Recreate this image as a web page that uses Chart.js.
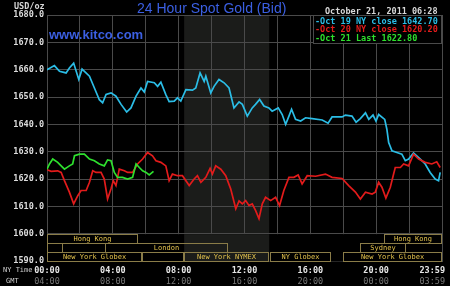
<!DOCTYPE html>
<html><head><meta charset="utf-8">
<script src="https://cdn.jsdelivr.net/npm/chart.js@4"></script>
<style>html,body{margin:0;padding:0;background:#000;overflow:hidden}canvas{display:block}</style>
</head><body>
<canvas id="c" width="450" height="286"></canvas>
<script>
// ---- data (hours in NY time, USD/oz) ----
const oct19Hours = [0,0.45,0.76,1.16,1.36,1.62,1.93,2.13,2.58,2.88,3.18,3.38,3.59,3.89,4.19,4.5,4.84,5.1,5.41,5.71,5.91,6.11,6.52,6.72,6.92,7.22,7.42,7.73,7.93,8.13,8.44,8.84,9.04,9.3,9.55,9.65,9.95,10.15,10.45,10.76,11.06,11.36,11.67,11.87,12.17,12.47,12.67,12.92,13.18,13.48,13.68,14.05,14.29,14.5,14.7,14.86,15.1,15.41,15.71,16.11,16.72,17.08,17.32,17.93,18.13,18.53,18.78,19.04,19.35,19.55,19.81,19.99,20.15,20.52,20.65,20.76,20.96,21.26,21.56,21.77,21.97,22.27,22.68,22.98,23.28,23.59,23.79,23.89];
const oct19Prices = [1660,1661.5,1659.4,1658.8,1660.6,1662.4,1656.4,1660.2,1657.6,1653.3,1649,1647.9,1650.9,1651.5,1650.3,1647.3,1644.5,1646,1650.3,1653.3,1651.8,1655.7,1655.2,1653.9,1655.4,1650.9,1648.3,1648.5,1649.7,1648.5,1652.7,1652.5,1653.3,1658.8,1655.7,1657.6,1651.5,1653.9,1656.4,1655.2,1653.3,1646,1648.2,1647.3,1643,1646,1647.3,1649.1,1646.7,1646,1644.8,1646,1643.6,1640,1643,1645.5,1641.8,1641.2,1642.4,1642.1,1641.6,1640.4,1642.7,1642.7,1643.4,1643,1640.8,1642.1,1644.2,1641.8,1643.4,1641.2,1643.6,1641.8,1638.2,1633.3,1630.3,1629.7,1629.1,1626.7,1627.3,1629.5,1627.3,1625.5,1622.4,1620,1619.4,1622.4];
const oct20Hours = [0,0.25,0.65,0.86,1.06,1.36,1.62,1.87,2.07,2.38,2.58,2.78,2.98,3.28,3.48,3.68,3.89,4.03,4.19,4.39,4.7,4.9,5.2,5.5,5.81,6.11,6.41,6.62,6.92,7.22,7.42,7.62,7.93,8.23,8.64,8.94,9.14,9.35,9.65,9.91,10.05,10.25,10.56,10.86,11.16,11.47,11.67,11.87,12.07,12.27,12.47,12.67,12.88,13.08,13.28,13.59,13.89,14.13,14.39,14.7,15,15.26,15.5,15.81,16.32,16.92,17.32,17.93,18.33,18.74,19.04,19.35,19.75,19.95,20.15,20.35,20.59,20.86,21.06,21.16,21.47,21.67,21.97,22.27,22.58,22.98,23.38,23.68,23.89];
const oct20Prices = [1623.4,1622.8,1623,1622.4,1619.4,1615.2,1610.9,1613.9,1615.8,1615.8,1618.8,1623,1622.4,1622.4,1620,1612.7,1616.4,1619.4,1617.6,1623.6,1623,1622.4,1622.4,1625.5,1627.3,1629.7,1628.5,1626.7,1626.1,1624.8,1619.4,1621.8,1621.2,1621.2,1617.6,1620,1621.2,1618.8,1620.6,1623.9,1621.8,1624.8,1623.6,1621.2,1616.4,1609.1,1612,1610.9,1612.1,1610.3,1610.9,1608.5,1605.5,1610.9,1613.3,1612.1,1613.3,1610.3,1615.8,1620.6,1620.6,1621.5,1618.2,1621.2,1621,1621.8,1620.6,1620.2,1617.6,1615.2,1612.7,1615.2,1614.5,1615.2,1618.8,1617,1613,1617,1621.8,1624.2,1624.2,1625.5,1624.8,1629.1,1627.3,1626.1,1625.5,1626.3,1624.2];
const oct21Hours = [0,0.15,0.35,0.65,0.86,1.06,1.36,1.56,1.67,1.97,2.27,2.58,2.88,3.18,3.48,3.68,3.89,4.09,4.29,4.59,4.9,5.2,5.41,5.61,5.81,6.02,6.21,6.47];
const oct21Prices = [1623.6,1625.5,1627.3,1626.1,1624.8,1623.6,1624.8,1625.5,1628.5,1629.1,1629.1,1627.3,1626.7,1625.5,1624.8,1627,1626.7,1622.4,1620.6,1620.6,1620,1620.6,1625.5,1624.2,1623,1622.4,1621.5,1622.8];
const seriesLabels = ['Oct 19 NY close 1642.70','Oct 20 NY close 1620.20','Oct 21 Last 1622.80'];
const seriesColors = ['#2bbde6','#e21b1b','#2ee02e'];
const nyTickLabels = {0:'00:00',4:'04:00',8:'08:00',12:'12:00',16:'16:00',20:'20:00',24:'23:59'};
const gmtTickLabels = {0:'04:00',4:'08:00',8:'12:00',12:'16:00',16:'20:00',20:'00:00',24:'03:59'};
const titleText = '24 Hour Spot Gold (Bid)';
const siteText = 'www.kitco.com';
const unitText = 'USD/oz';
const dateText = 'October 21, 2011 06:28';
const pitSession = [8.333, 13.5];
const sessionNames = ['Hong Kong','Hong Kong','','London','Sydney','New York Globex','','New York NYMEX','NY Globex','New York Globex'];
const sessionRows  = [0,0,1,1,1,2,2,2,2,2];
const sessionStart = [0,20.5,0,3.5,19,0,5.75,8.333,13.55,18];
const sessionEnd   = [5.5,24,1,11,21.8,5.75,8.333,13.5,17.25,24];

// ---- chart ----
const MONO = '"DejaVu Sans Mono", monospace';
const GRID = '#4a4a4a';
function mk(h, p){ return h.map((x,i)=>({x, y:p[i]})); }

const deco = {
  id:'deco',
  beforeDraw(chart){
    const {ctx, chartArea:a, scales:{x,y}} = chart;
    ctx.save();
    ctx.fillStyle = '#000'; ctx.fillRect(0,0,chart.width,chart.height);
    ctx.fillStyle = '#1b1c1a';
    const x0 = x.getPixelForValue(pitSession[0]), x1 = x.getPixelForValue(pitSession[1]);
    ctx.fillRect(x0, a.top, x1-x0, a.bottom-a.top);
    ctx.restore();
    ['x','x2'].forEach(id=>{
      const s = chart.scales[id];
      const items = s.getLabelItems(a);
      const last = items[items.length-1];
      if (last) { last.options.textAlign = 'right'; last.options.translation[0] = s.right + 3; }
    });
  },
  beforeDatasetsDraw(chart){
    const {ctx, chartArea:a, scales:{x,y}} = chart;
    ctx.save();
    const yTop = y.getPixelForValue(1600), yBot = y.getPixelForValue(1590);
    ctx.fillStyle = '#000';
    ctx.fillRect(a.left, yTop+0.5, a.right-a.left, yBot-yTop);
    const x0 = x.getPixelForValue(pitSession[0]), x1 = x.getPixelForValue(pitSession[1]);
    ctx.fillStyle = '#1b1c1a';
    ctx.fillRect(x0, yTop+0.5, x1-x0, yBot-yTop);
    ctx.font = '7px ' + MONO;
    ctx.textAlign = 'center'; ctx.textBaseline = 'middle';
    for (let i=0;i<sessionNames.length;i++){
      const r = sessionRows[i];
      const t = Math.round(y.getPixelForValue(1600 - r*10/3)) + 0.5;
      const b = Math.round(y.getPixelForValue(1600 - (r+1)*10/3)) + 0.5;
      const l = Math.round(x.getPixelForValue(sessionStart[i])) + 0.5;
      const rr = Math.round(x.getPixelForValue(sessionEnd[i])) - 0.5;
      ctx.strokeStyle = '#8a7c48'; ctx.lineWidth = 1;
      ctx.strokeRect(l, t, rr-l, b-t);
      if (sessionNames[i]) {
        ctx.fillStyle = '#e3c24c';
        ctx.fillText(sessionNames[i], (l+rr)/2, (t+b)/2 + 0.5);
      }
    }
    ctx.restore();
  },
  afterDraw(chart){
    const {ctx, chartArea:a} = chart;
    ctx.save();
    // legend box
    const lx = 313, ly = a.top, lw = a.right - 313, lh = 28;
    ctx.fillStyle = '#000'; ctx.fillRect(lx, ly, lw, lh);
    ctx.strokeStyle = GRID; ctx.lineWidth = 1;
    ctx.strokeRect(lx+0.5, ly+0.5, lw-1, lh);
    ctx.font = 'bold 8.5px ' + MONO; ctx.textAlign = 'left'; ctx.textBaseline = 'middle';
    seriesLabels.forEach((s,i)=>{
      ctx.fillStyle = seriesColors[i];
      ctx.fillText('-' + s, 315, 21.5 + i*8.7);
    });
    // header texts
    ctx.fillStyle = '#d8d8d8';
    ctx.fillText(unitText, 14, 6.5);
    ctx.fillText(dateText, 325, 11.5);
    ctx.fillStyle = '#3b5fe2';
    ctx.font = '14px "Liberation Sans", Arial, sans-serif';
    ctx.fillText(titleText, 137, 9);
    ctx.font = 'bold 13px "Liberation Sans", Arial, sans-serif';
    ctx.fillText(siteText, 49, 35.5);
    ctx.font = '7px ' + MONO;
    ctx.fillStyle = '#cfcfcf';
    ctx.fillText('NY Time', 3, 270.5);
    ctx.fillText('GMT', 6, 281);
    ctx.restore();
  }
};

new Chart(document.getElementById('c'), {
  type:'line',
  data:{ datasets:[
    {label:seriesLabels[0], data:mk(oct19Hours,oct19Prices), borderColor:seriesColors[0], order:2},
    {label:seriesLabels[1], data:mk(oct20Hours,oct20Prices), borderColor:seriesColors[1], order:1},
    {label:seriesLabels[2], data:mk(oct21Hours,oct21Prices), borderColor:seriesColors[2], order:0}
  ]},
  options:{
    responsive:false, animation:false, devicePixelRatio:1,
    elements:{ point:{radius:0}, line:{borderWidth:1.7, tension:0} },
    layout:{ padding:{left:0, right:8, top:15, bottom:0} },
    plugins:{ legend:{display:false}, title:{display:false}, tooltip:{enabled:false} },
    scales:{
      y:{ type:'linear', min:1590, max:1680,
          ticks:{ stepSize:10, callback:v=>Number(v).toFixed(1), color:'#dcdcdc', padding:3,
                  font:{family:MONO, size:8.5, weight:'bold'} },
          grid:{ color:GRID, drawTicks:false }, border:{ color:GRID },
          afterFit(s){ s.width = 47; s.paddingTop = 0; s.paddingBottom = 0; } },
      x:{ type:'linear', min:0, max:24, position:'bottom',
          ticks:{ stepSize:2, autoSkip:false, maxRotation:0, padding:5, color:'#e6e6e6',
                  font:{family:MONO, size:8.5, weight:'bold'},
                  callback:v=> nyTickLabels[v] !== undefined ? nyTickLabels[v] : '' },
          grid:{ color:GRID, drawTicks:false }, border:{ color:GRID },
          afterFit(s){ s.height = 12; s.paddingLeft = 0; s.paddingRight = 0; } },
      x2:{ type:'linear', min:0, max:24, position:'bottom',
          ticks:{ stepSize:4, autoSkip:false, maxRotation:0, padding:3.5, color:'#7a7a7a',
                  font:{family:MONO, size:8.5},
                  callback:v=> gmtTickLabels[v] !== undefined ? gmtTickLabels[v] : '' },
          grid:{ display:false, drawTicks:false }, border:{ display:false },
          afterFit(s){ s.height = 13; s.paddingLeft = 0; s.paddingRight = 0; } }
    }
  },
  plugins:[deco]
});
</script>
</body></html>
